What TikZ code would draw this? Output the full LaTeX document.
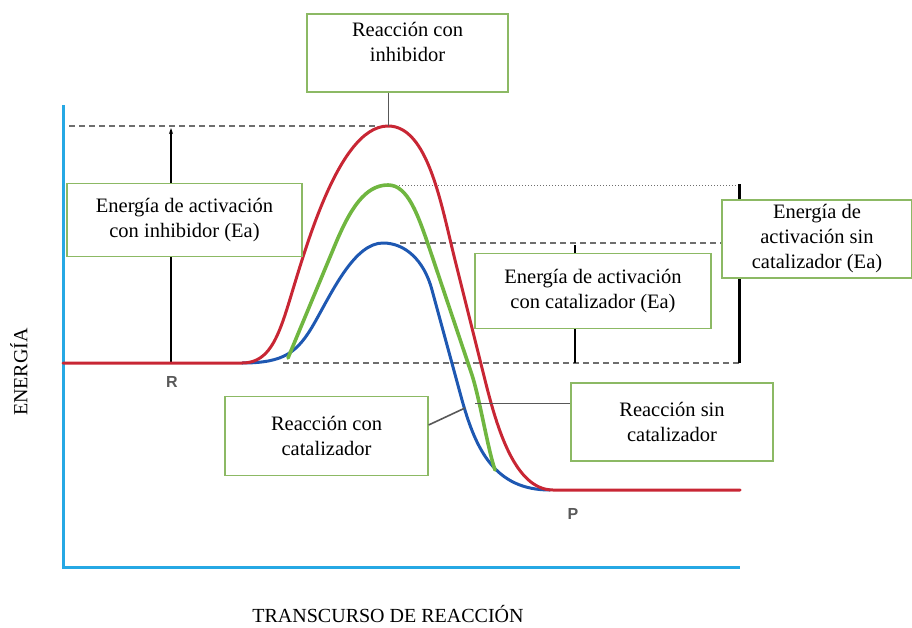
\documentclass[tikz,border=0pt]{standalone}
\usepackage{fontspec}
\setmainfont{Liberation Serif}
\setsansfont{Liberation Sans}
\usetikzlibrary{arrows.meta}
\definecolor{rojo}{RGB}{200,38,52}
\definecolor{verde}{RGB}{112,182,64}
\definecolor{azul}{RGB}{30,88,178}
\definecolor{eje}{RGB}{38,168,228}
\definecolor{borde}{RGB}{140,185,100}
\definecolor{gris}{RGB}{110,110,110}
\tikzstyle{caja} = [draw=borde,line width=1.2pt,fill=white,align=center,inner sep=0pt,font=\fontsize{20.5}{25}\selectfont]
\tikzstyle{nivel} = [gris,line width=2.2pt,dash pattern=on 6pt off 4pt]
\tikzstyle{curva} = [line width=3pt,line cap=round,line join=round]
\tikzstyle{guia} = [gris!80!black,line width=1pt]
\tikzstyle{etiq} = [font=\sffamily\bfseries\fontsize{16}{16}\selectfont,text=black!65]

\begin{document}
\begin{tikzpicture}[x=1pt,y=-1pt]
\useasboundingbox (0,0) rectangle (912,627);

\coordinate (yTop) at (63,105);
\coordinate (o) at (63,567);
\coordinate (xEnd) at (740,567);
\coordinate (picoR) at (388,126);
\coordinate (picoV) at (388,185);
\coordinate (picoA) at (383,243);
\coordinate (ptAzul) at (465,408);
\coordinate (ptVerde) at (475,403);

\draw[nivel] (69,126) -- (375,126);
\draw[gris,line width=1pt,dotted] (393,185) -- (739,185);
\draw[nivel] (400,243) -- (722,243);
\draw[nivel] (283,363) -- (739,363);

\draw[line width=2pt,-{Stealth[length=6pt,width=4pt]}] (171,363) -- (171,128);
\draw[line width=2pt] (575,363) -- (575,245);
\draw[line width=3pt] (739,363) -- (739,184);

\draw[eje,line width=3pt] (yTop) -- (o) -- (xEnd);

\draw[curva,azul] (242,363) .. controls (285,363) and (298,352) .. (315,322)
  .. controls (333,290) and (355,243) .. (picoA)
  .. controls (405,243) and (424,260) .. (432,290) -- (462,400)
  .. controls (476,450) and (495,490) .. (550,490);
\draw[curva,verde,line width=3.6pt] (288,358) -- (335,245)
  .. controls (350,209) and (365,185) .. (picoV)
  .. controls (408,185) and (418,215) .. (430,250) -- (472,375)
  .. controls (480,400) and (488,450) .. (495,470);
\draw[curva,rojo] (63,363) -- (242,363) .. controls (265,363) and (275,345) .. (285,315)
  .. controls (300,270) and (335,126) .. (picoR)
  .. controls (428,126) and (441,204) .. (455,260) -- (485,380)
  .. controls (497,428) and (515,490) .. (553,490) -- (740,490);

\node[caja,minimum width=201pt,minimum height=78pt] (inhib) at (407.5,53) {Reacción con\\inhibidor\\[-10pt]\strut};
\node[caja,minimum width=235pt,minimum height=73pt] (eaInhib) at (184.5,220) {Energía de activación\\con inhibidor (Ea)};
\node[caja,minimum width=236pt,minimum height=75pt] (eaCat) at (593,291) {Energía de activación\\con catalizador (Ea)};
\node[caja,minimum width=190pt,minimum height=78pt] (eaSin) at (817,239) {Energía de\\activación sin\\catalizador (Ea)};
\node[caja,minimum width=203pt,minimum height=79pt] (conCat) at (326.5,436) {Reacción con\\catalizador};
\node[caja,minimum width=202pt,minimum height=78pt] (sinCat) at (672,422) {Reacción sin\\catalizador};

\draw[guia] (picoR |- inhib.south) -- (picoR);
\draw[guia,line width=1.6pt] ([yshift=11pt]conCat.east) -- (ptAzul);
\draw[guia] (ptVerde) -- (ptVerde -| sinCat.west);

\node[etiq] (R) at (172,382) {R};
\node[etiq] (P) at (573,514) {P};
\node[font=\fontsize{20}{20}\selectfont,rotate=90] (ejeY) at (19,372) {ENERGÍA};
\node[font=\fontsize{20}{20}\selectfont] (ejeX) at (388,614) {TRANSCURSO DE REACCIÓN};
\end{tikzpicture}
\end{document}
